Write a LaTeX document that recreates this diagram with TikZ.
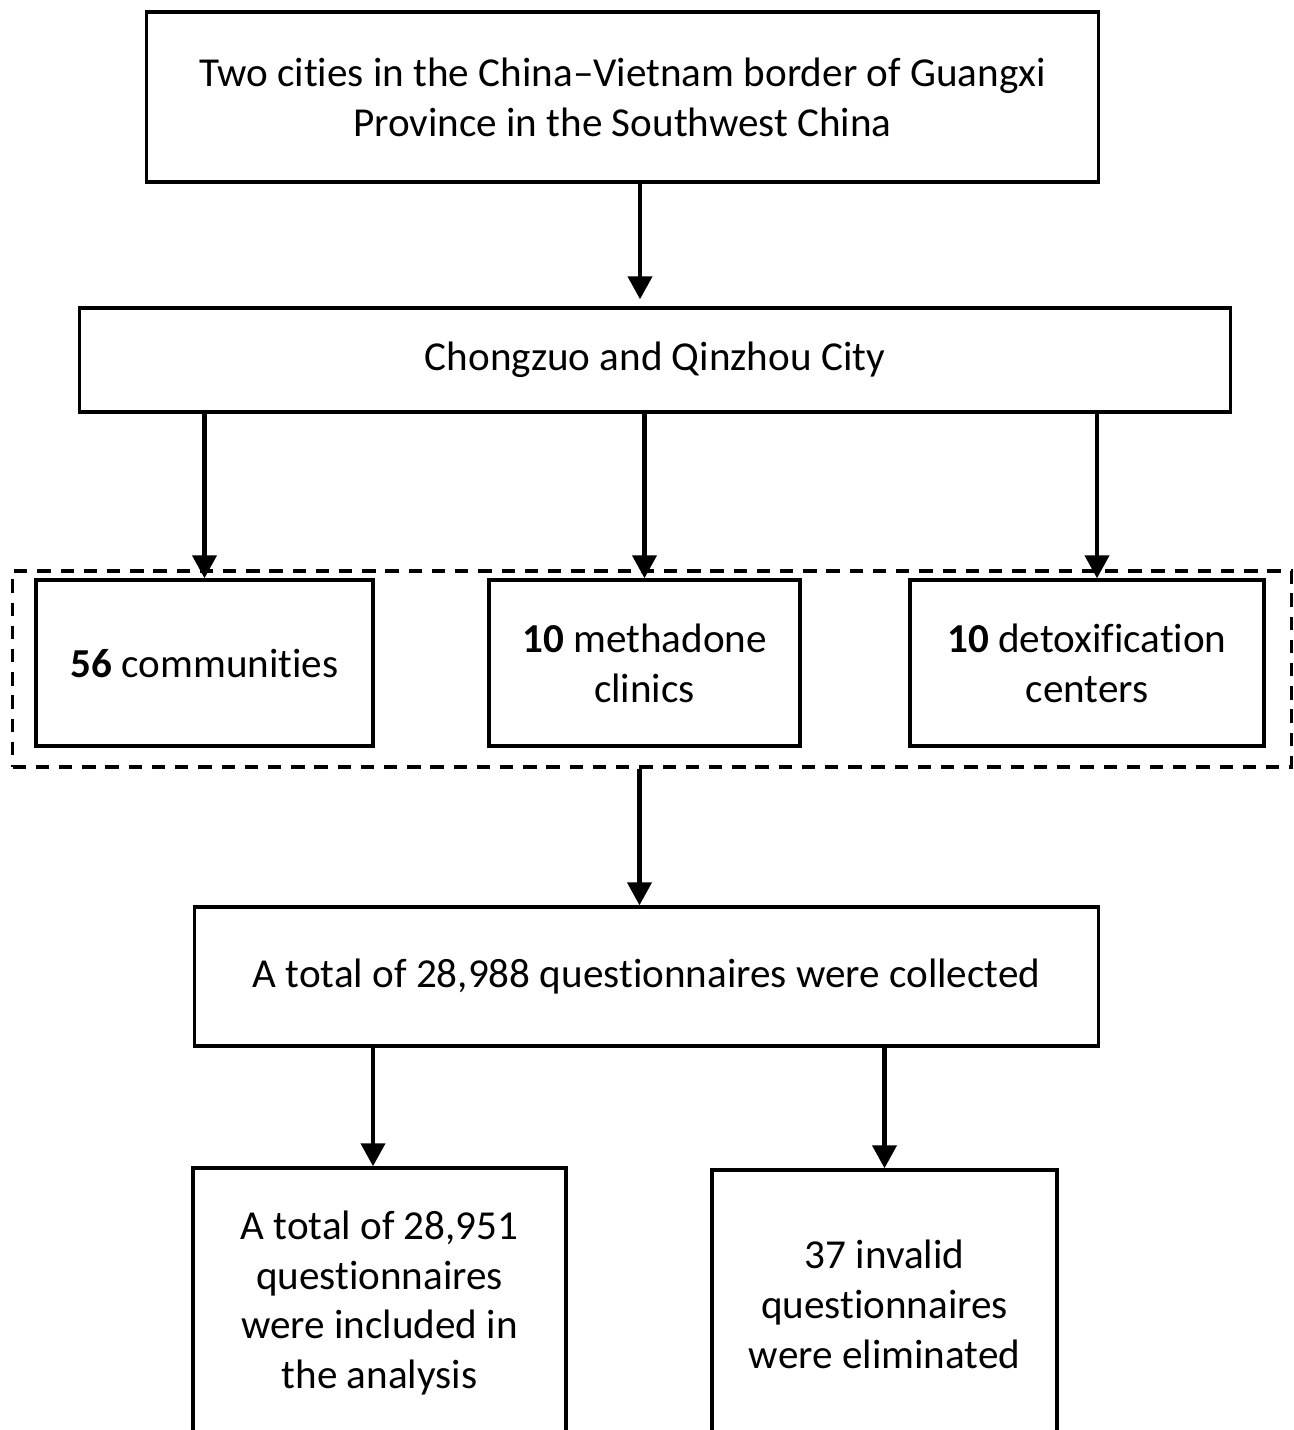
\documentclass[tikz,border=0pt]{standalone}
\usepackage{fontspec}
\setmainfont[Ligatures=NoCommon]{Carlito}
\usetikzlibrary{arrows.meta}

\begin{document}
\begin{tikzpicture}[x=0.01cm, y=-0.01cm,
	box/.style={shape=rectangle, draw, line width=0.95pt, align=center, inner sep=0pt, font=\fontsize{11.7}{14.2}\selectfont},
	group/.style={shape=rectangle, draw, line width=0.95pt, dash pattern={on 3.8pt off 2.8pt}},
	arr/.style={line width=1.2pt, -{Triangle[length=0.23cm, width=0.24cm]}}]

	\useasboundingbox (0, 0) rectangle (1293, 1430);

	% Boxes:
	\node[box, minimum width=9.51cm, minimum height=1.70cm](region) at (622.5, 97){Two cities in the China--Vietnam border of Guangxi\\Province in the Southwest China};
	\node[box, minimum width=11.50cm, minimum height=1.04cm](city) at (655, 360){Chongzuo and Qinzhou City};
	\node[group, minimum width=12.78cm, minimum height=1.96cm](sites) at (652, 669){};
	\node[box, minimum width=3.37cm, minimum height=1.66cm](comm) at (204.5, 663){\textbf{56} communities};
	\node[box, minimum width=3.11cm, minimum height=1.66cm](clinic) at (644.5, 663){\textbf{10} methadone\\clinics};
	\node[box, minimum width=3.54cm, minimum height=1.66cm](detox) at (1087, 663){\textbf{10} detoxification\\centers};
	\node[box, minimum width=9.03cm, minimum height=1.39cm](total) at (646.5, 976.5){A total of 28,988 questionnaires were collected};
	\node[box, minimum width=3.73cm, minimum height=2.70cm](valid) at (379.5, 1303){A total of 28,951\\questionnaires\\were included in\\the analysis};
	\node[box, minimum width=3.45cm, minimum height=2.68cm](invalid) at (884.5, 1304){37 invalid\\questionnaires\\were eliminated};

	% Arrows:
	\draw[arr, shorten >=0.07cm] ([xshift=0.175cm]region.south) -- ([xshift=0.175cm]region.south |- city.north);
	\draw[arr] (comm.north |- city.south) -- (comm.north);
	\draw[arr] (clinic.north |- city.south) -- (clinic.north);
	\draw[arr] ([xshift=0.1cm]detox.north |- city.south) -- ([xshift=0.1cm]detox.north);
	\draw[arr] ([xshift=-0.07cm]total.north |- sites.south) -- ([xshift=-0.07cm]total.north);
	\draw[arr] ([xshift=-0.065cm]valid.north |- total.south) -- ([xshift=-0.065cm]valid.north);
	\draw[arr] (invalid.north |- total.south) -- (invalid.north);

\end{tikzpicture}
\end{document}
